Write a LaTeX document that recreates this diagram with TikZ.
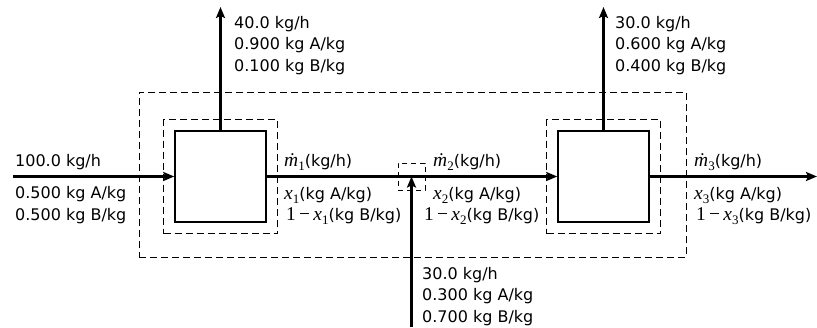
\documentclass[tikz,border=0pt]{standalone}
\usepackage{fontspec}
\setmainfont{DejaVu Sans}
\newfontfamily\tms{Liberation Serif}
\newcommand\tmsz{\fontsize{19.5}{21.5}\selectfont\tms}
\newcommand\subs[1]{\raisebox{-4pt}{\fontsize{13}{13}\selectfont\tms #1}}
\newcommand\mflow[1]{{\tmsz\itshape ṁ}\subs{#1}}
\newcommand\xfr[1]{{\tmsz\itshape x}\subs{#1}}
\newcommand\omx[1]{{\tmsz 1\,−\,}\xfr{#1}}
\usetikzlibrary{arrows.meta}
\begin{document}
\begin{tikzpicture}[x=1pt,y=-1pt,
  flow/.style={line width=2.8pt,-{Stealth[length=11pt,width=9pt,inset=2pt]}},
  unit/.style={draw,line width=1.5pt,minimum width=91pt,minimum height=91pt,inner sep=0pt},
  bound/.style={draw,line width=1pt,dash pattern=on 7pt off 4pt,inner sep=0pt},
  lbl/.style={anchor=base west,inner sep=0pt,align=left,font=\fontsize{16}{21.5}\selectfont}]
\useasboundingbox (0,0) rectangle (817,327);
% units
\node[unit] (b1) at (220.5,176.5) {};
\node[unit] (b2) at (603.5,176.5) {};
% system boundaries
\node[bound,minimum width=114pt,minimum height=114pt] (s1) at (b1) {};
\node[bound,minimum width=114pt,minimum height=114pt] (s2) at (b2) {};
\node[bound,minimum width=547pt,minimum height=165pt] (sys) at (412.5,174.5) {};
\node[bound,dash pattern=on 5pt off 4pt,minimum width=27pt,minimum height=27pt] (mix) at (411.5,176.5) {};
% free ends
\coordinate (in) at (13,176.5);
\coordinate (top1) at (b1.north |- 0,7);
\coordinate (top2) at (b2.north |- 0,7);
\coordinate (out) at (817,176.5);
\coordinate (feed) at (mix.center |- 0,327);
% streams
\draw[flow] (in) -- (b1.west);
\draw[flow] (b1.north) -- (top1);
\draw[flow] (b1.east) -- (b2.west);
\draw[flow] (b2.north) -- (top2);
\draw[flow] (b2.east) -- (out);
\draw[flow] (feed) -- (mix.center);
% labels (base anchor = baseline of last line)
\node[lbl] (l0) at (15,166) {100.0 kg/h};
\node[lbl] (l0b) at (15,220) {0.500 kg A/kg\\0.500 kg B/kg};
\node[lbl] (t1) at (234,71) {40.0 kg/h\\0.900 kg A/kg\\0.100 kg B/kg};
\node[lbl] (t2) at (615,71) {30.0 kg/h\\0.600 kg A/kg\\0.400 kg B/kg};
\node[lbl] (f1) at (422,322) {30.0 kg/h\\0.300 kg A/kg\\0.700 kg B/kg};
\node[lbl] (m1) at (284,166) {\mflow{1}(kg/h)};
\node[lbl] (x1a) at (284,199) {\xfr{1}(kg A/kg)};
\node[lbl] (x1b) at (286,220) {\omx{1}(kg B/kg)};
\node[lbl] (m2) at (433,166) {\mflow{2}(kg/h)};
\node[lbl] (x2a) at (433,199) {\xfr{2}(kg A/kg)};
\node[lbl] (x2b) at (424,220) {\omx{2}(kg B/kg)};
\node[lbl] (m3) at (694,166) {\mflow{3}(kg/h)};
\node[lbl] (x3a) at (694,199) {\xfr{3}(kg A/kg)};
\node[lbl] (x3b) at (696,220) {\omx{3}(kg B/kg)};
\end{tikzpicture}
\end{document}
